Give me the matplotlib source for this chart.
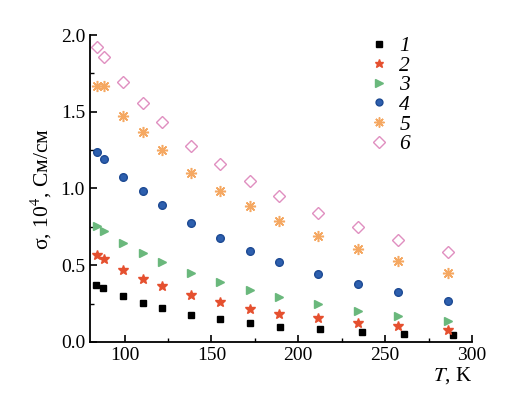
import numpy as np
import matplotlib
matplotlib.use("Agg")
import matplotlib.pyplot as plt

plt.rcParams['font.family'] = ['Liberation Serif', 'DejaVu Serif']
plt.rcParams['mathtext.fontset'] = 'stix'

# temperatures, K
T_1 = [83.5, 87.7, 99.2, 110.7, 121.3, 138.2, 155.1, 172.2, 189.6, 212.5, 236.7, 260.9, 289.1]
T = [84.0, 88.0, 99.2, 110.5, 121.5, 138.3, 155.1, 172.0, 189.0, 211.3, 234.5, 257.5, 286.2]

# conductivity, 10^4 S/cm
s1 = [0.369, 0.349, 0.297, 0.252, 0.221, 0.178, 0.148, 0.122, 0.100, 0.083, 0.065, 0.054, 0.044]
s2 = [0.565, 0.541, 0.469, 0.410, 0.363, 0.306, 0.259, 0.217, 0.184, 0.154, 0.124, 0.102, 0.078]
s3 = [0.758, 0.723, 0.643, 0.578, 0.523, 0.450, 0.393, 0.339, 0.295, 0.245, 0.200, 0.171, 0.139]
s4 = [1.236, 1.190, 1.077, 0.982, 0.891, 0.773, 0.676, 0.593, 0.521, 0.441, 0.378, 0.324, 0.267]
s5 = [1.670, 1.670, 1.472, 1.366, 1.251, 1.099, 0.984, 0.886, 0.790, 0.693, 0.608, 0.530, 0.451]
s6 = [1.920, 1.855, 1.696, 1.559, 1.431, 1.277, 1.160, 1.051, 0.953, 0.842, 0.749, 0.664, 0.584]

labels = ["1", "2", "3", "4", "5", "6"]

fig = plt.figure(figsize=(5.08, 3.98), dpi=100)
ax = fig.add_axes([0.177, 0.141, 0.752, 0.771])

ax.plot(T_1, s1, ls="none", marker="s", ms=5, color="black", label=labels[0])
ax.plot(T, s2, ls="none", marker="*", ms=7, color="#e5502f", mec="#e5502f", label=labels[1])
ax.plot(T, s3, ls="none", marker=">", ms=6, color="#6ab87c", mec="#6ab87c", label=labels[2])
ax.plot(T, s4, ls="none", marker="o", ms=5.5, color="#2d5fae", mec="#1d4a93", label=labels[3])
ax.plot(T, s5, ls="none", marker=(8, 2, 0), ms=8, mew=1.1, color="#f5a862", label=labels[4])
ax.plot(T, s6, ls="none", marker="D", ms=6.5, mfc="none", mew=1.0, color="#e08fc0", label=labels[5])

ax.set_xlim(80, 300)
ax.set_ylim(0, 2.0)
ax.set_xticks([100, 150, 200, 250, 300])
ax.set_xticks([125, 175, 225, 275], minor=True)
ax.set_yticks([0.0, 0.5, 1.0, 1.5, 2.0])
ax.set_yticks([0.25, 0.75, 1.25, 1.75], minor=True)
ax.yaxis.set_major_formatter(matplotlib.ticker.FormatStrFormatter("%.1f"))

for s in ["top", "right"]:
    ax.spines[s].set_visible(False)
for s in ["left", "bottom"]:
    ax.spines[s].set_linewidth(1.3)
ax.tick_params(which="major", direction="in", length=5, width=1.2, labelsize=14)
ax.tick_params(which="minor", direction="in", length=3, width=1.0)

ax.set_ylabel(r"σ, 10$^4$, См/см", fontsize=15.5, labelpad=5)
ax.text(1.0, -0.075, r"$T$, K", transform=ax.transAxes, ha="right", va="top", fontsize=15)

leg = ax.legend(loc="upper left", bbox_to_anchor=(0.68, 1.06), frameon=False,
                handletextpad=0.5, labelspacing=-0.02, fontsize=15.5,
                handlelength=0.9, markerscale=0.9)
for t in leg.get_texts():
    t.set_fontstyle("italic")

fig.savefig("out.png", dpi=100)
